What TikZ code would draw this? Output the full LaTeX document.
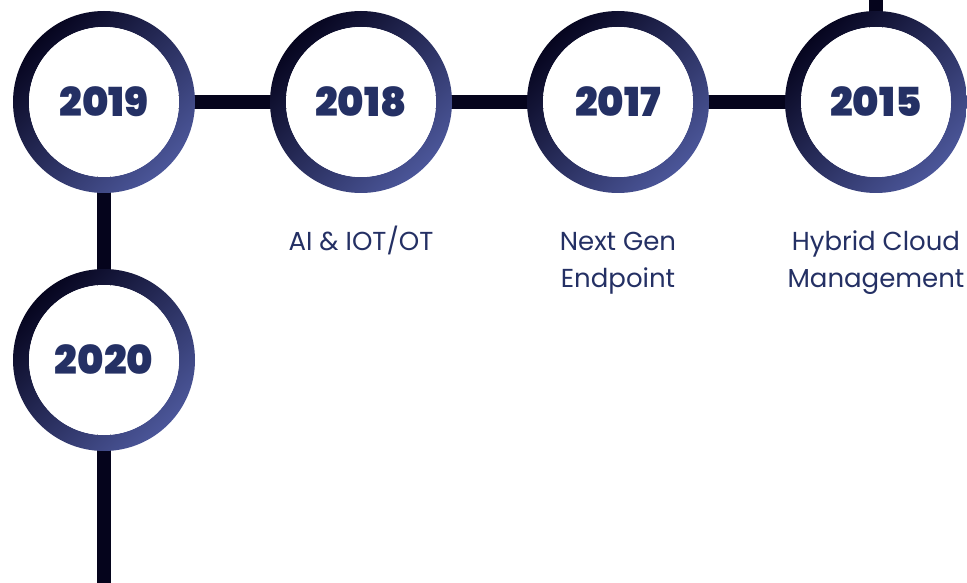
\documentclass[tikz,border=0pt]{standalone}
\usepackage{fontspec}
\setmainfont{Poppins}
\newfontfamily\yearfont{Poppins Black}
\usetikzlibrary{backgrounds}
\definecolor{linecol}{HTML}{05041C}
\definecolor{ringdark}{HTML}{06051F}
\definecolor{ringlight}{HTML}{4B5699}
\definecolor{txtcol}{HTML}{243064}
\tikzset{
  yearnode/.style={circle, minimum size=182pt, inner sep=0pt, font=\yearfont\fontsize{40}{40}\selectfont, text=txtcol},
  labelnode/.style={align=center, anchor=base, font=\fontsize{26}{37}\selectfont, text=txtcol},
  connector/.style={draw=linecol, line width=14pt},
}
\begin{document}
\begin{tikzpicture}[x=1pt,y=-1pt]
\useasboundingbox (0,0) rectangle (967,583);
\node[yearnode] (y2019) at (104,102) {2019};
\node[yearnode] (y2018) at (361,102) {2018};
\node[yearnode] (y2017) at (618,102) {2017};
\node[yearnode] (y2015) at (876,102) {2015};
\node[yearnode] (y2020) at (104,360) {2020};
\coordinate (top15) at (876,0);
\coordinate (bot20) at (104,583);
\node[labelnode] (l2018) at (361,250) {AI \& IOT/OT};
\node[labelnode] (l2017) at (618,287) {Next Gen\\Endpoint};
\node[labelnode] (l2015) at (876,287) {Hybrid Cloud\\Management};
\begin{pgfonlayer}{background}
\path[connector] (y2019.center) -- (y2018.center) -- (y2017.center) -- (y2015.center);
\path[connector] (y2015.center) -- (top15);
\path[connector] (y2019.center) -- (y2020.center) -- (bot20);
\foreach \n in {y2019,y2018,y2017,y2015,y2020}{
  \shade[even odd rule, top color=ringdark, bottom color=ringlight, shading angle=45]
    (\n.center) circle[radius=91pt] (\n.center) circle[radius=75pt];
  \fill[white] (\n.center) circle[radius=75pt];
}
\end{pgfonlayer}
\end{tikzpicture}
\end{document}
